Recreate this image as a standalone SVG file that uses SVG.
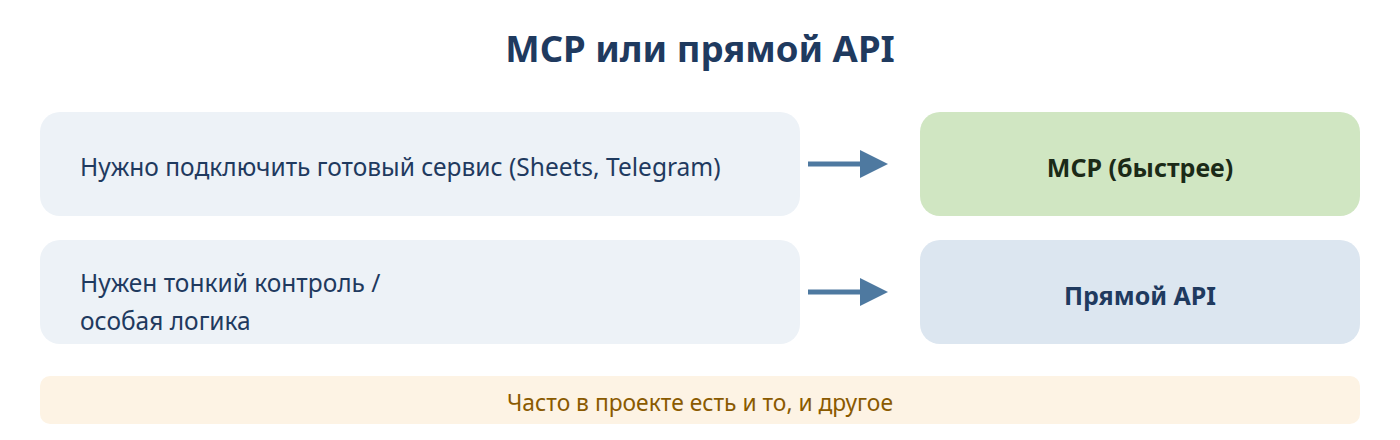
<svg xmlns="http://www.w3.org/2000/svg" width="1400" height="440" viewBox="0 0 1400 440">
<defs>
<style>
text{font-family:"Noto Sans","Open Sans","DejaVu Sans",sans-serif}
.title{font-size:36.5px;font-weight:700;fill:#1f3a5f}
.lt{font-size:24.5px;fill:#1f3a5f}
.rt{font-size:25px;font-weight:700}
.arrow{stroke:#4e79a0;stroke-width:5;fill:none}
.head{fill:#4e79a0}
</style>
</defs>
<rect width="1400" height="440" fill="#ffffff"/>
<text class="title" x="700" y="62" text-anchor="middle">MCP или прямой API</text>
<g id="need-service">
<rect x="40" y="112" width="760" height="104" rx="20" fill="#edf2f7"/>
<text class="lt" x="80" y="176">Нужно подключить готовый сервис (Sheets, Telegram)</text>
</g>
<g id="need-control">
<rect x="40" y="240" width="760" height="104" rx="20" fill="#edf2f7"/>
<text class="lt" x="80" y="292">Нужен тонкий контроль /</text>
<text class="lt" x="80" y="330">особая логика</text>
</g>
<g id="mcp">
<rect x="920" y="112" width="440" height="104" rx="20" fill="#d0e6c2"/>
<text class="rt" x="1140" y="177" text-anchor="middle" fill="#1b2a17">MCP (быстрее)</text>
</g>
<g id="direct-api">
<rect x="920" y="240" width="440" height="104" rx="20" fill="#dce6f0"/>
<text class="rt" x="1140" y="305" text-anchor="middle" fill="#1f3a5f">Прямой API</text>
</g>
<g id="note">
<rect x="40" y="376" width="1320" height="48" rx="10" fill="#fdf3e4"/>
<text x="700" y="411" text-anchor="middle" font-size="22.8" fill="#8a5a00">Часто в проекте есть и то, и другое</text>
</g>
<g id="connectors">
<line class="arrow" x1="808" y1="164" x2="862" y2="164"/>
<polygon class="head" points="860,150 888,164 860,178"/>
<line class="arrow" x1="808" y1="292" x2="862" y2="292"/>
<polygon class="head" points="860,278 888,292 860,306"/>
</g>
</svg>
